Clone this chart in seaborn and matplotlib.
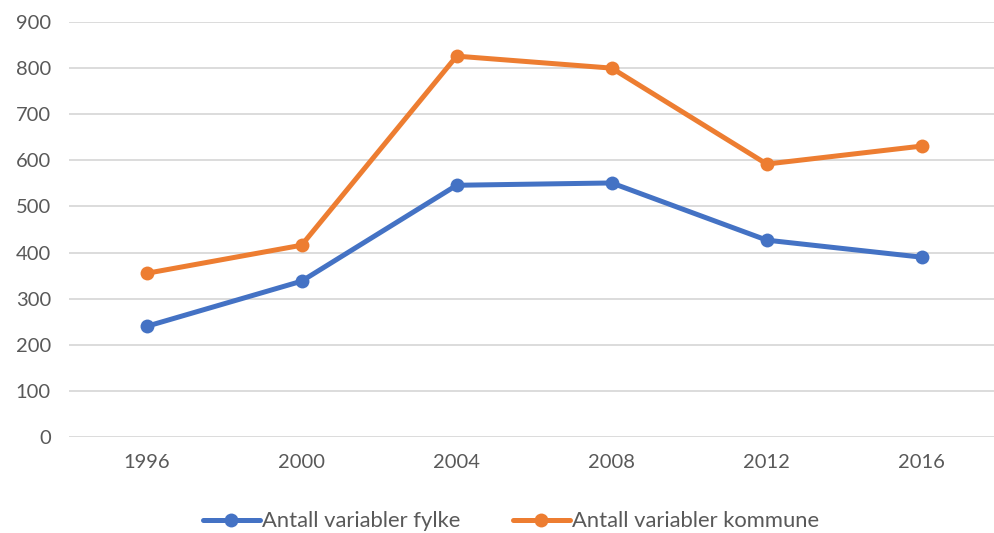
import pandas as pd
import seaborn as sns
import matplotlib.pyplot as plt

years = ['1996', '2000', '2004', '2008', '2012', '2016']
fylke = [240, 338, 546, 551, 427, 390]
kommune = [355, 416, 826, 800, 592, 631]

series_names = ['Antall variabler fylke', 'Antall variabler kommune']
colors = ['#4472C4', '#ED7D31']

df = pd.DataFrame({
    'year': years * 2,
    'value': fylke + kommune,
    'series': [series_names[0]] * len(years) + [series_names[1]] * len(years),
})

sns.set_theme(style='white')
plt.rcParams['font.family'] = ['Lato', 'DejaVu Sans']

fig = plt.figure(figsize=(9.94, 5.33), dpi=100)
ax = fig.add_axes([0.0694, 0.18, 0.936, 0.7787])

sns.lineplot(data=df, x='year', y='value', hue='series', palette=colors,
             marker='o', markersize=10, markeredgewidth=0, linewidth=3.6,
             sort=False, ax=ax)

ax.set_xlim(-0.5, 5.5)
ax.set_ylim(0, 900)
ax.set_yticks(range(0, 901, 100))
ax.yaxis.grid(True, color='#D9D9D9', linewidth=1.3)
ax.set_axisbelow(True)
for s in ax.spines.values():
    s.set_visible(False)
ax.tick_params(axis='both', length=0, labelsize=14.5, labelcolor='#595959')
ax.tick_params(axis='y', pad=13)
ax.tick_params(axis='x', pad=12)
ax.set_xlabel('')
ax.set_ylabel('')

ax.legend(loc='lower center', bbox_to_anchor=(0.475, -0.275), ncol=2, frameon=False,
          fontsize=15.8, labelcolor='#595959', handlelength=2.6, handletextpad=0.1,
          columnspacing=2.4)

fig.savefig('out.png', dpi=100)
